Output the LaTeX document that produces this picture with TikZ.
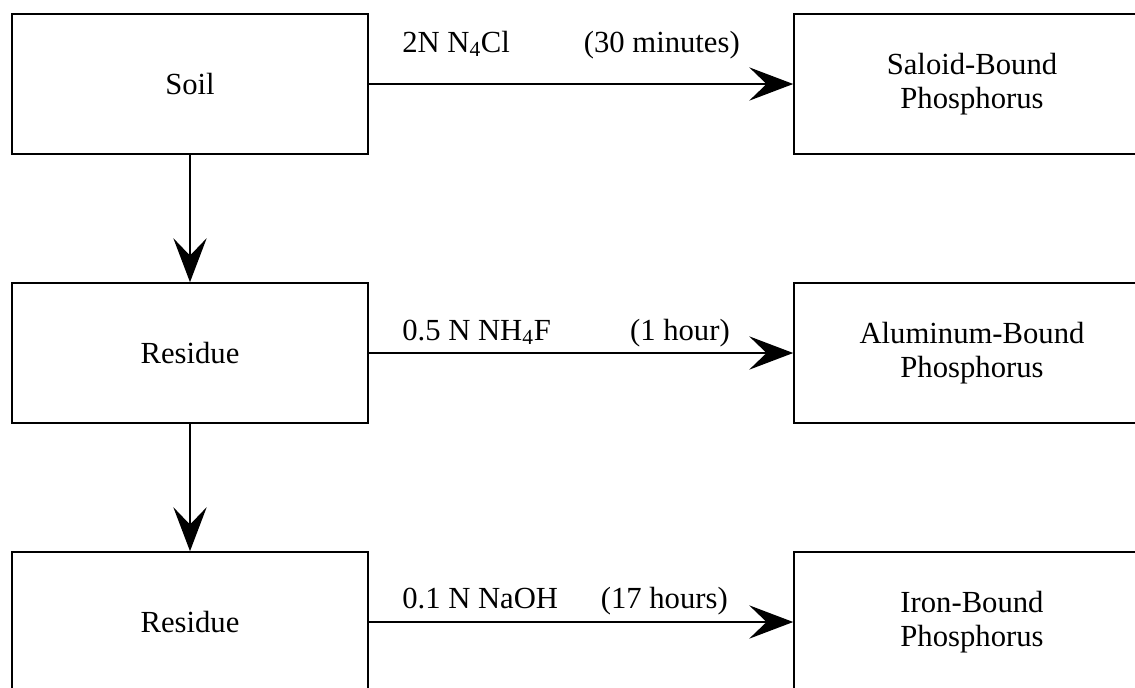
\documentclass[tikz,border=0pt]{standalone}
\usepackage{fontspec}
\setmainfont{Liberation Serif}
\usetikzlibrary{arrows.meta}
\tikzset{
  box/.style={draw, line width=1.2pt, minimum width=267pt, minimum height=105pt, align=center, inner sep=0pt,
    font=\rmfamily\fontsize{23}{25.5}\selectfont},
  lbl/.style={inner sep=0pt, font=\rmfamily\fontsize{23}{25.5}\selectfont},
  conn/.style={line width=1.2pt, -{Stealth[length=33pt, width=25pt, inset=13pt]}},
}
\begin{document}
\begin{tikzpicture}[x=0.75pt, y=-0.75pt]
\useasboundingbox (0,0) rectangle (1135,687);
\node[box] (soil) at (190,84) {Soil};
\node[box] (res1) at (190,353) {Residue};
\node[box] (res2) at (190,622) {Residue};
\node[box] (sal) at (972,84) {Saloid-Bound\\Phosphorus};
\node[box] (alu) at (972,353) {Aluminum-Bound\\Phosphorus};
\node[box] (iron) at (972,622) {Iron-Bound\\Phosphorus};
\draw[conn] (soil) -- (res1);
\draw[conn] (res1) -- (res2);
\draw[conn] (soil) -- (sal);
\draw[conn] (res1) -- (alu);
\draw[conn] (res2) -- (iron);
\node[lbl, anchor=base west] (l1a) at (402,52) {2N N\textsubscript{4}Cl};
\node[lbl, anchor=base east] (l1b) at (740,52) {(30 minutes)};
\node[lbl, anchor=base west] (l2a) at (402,340) {0.5 N NH\textsubscript{4}F};
\node[lbl, anchor=base east] (l2b) at (730,340) {(1 hour)};
\node[lbl, anchor=base west] (l3a) at (402,608) {0.1 N NaOH};
\node[lbl, anchor=base east] (l3b) at (728,608) {(17 hours)};
\end{tikzpicture}
\end{document}
